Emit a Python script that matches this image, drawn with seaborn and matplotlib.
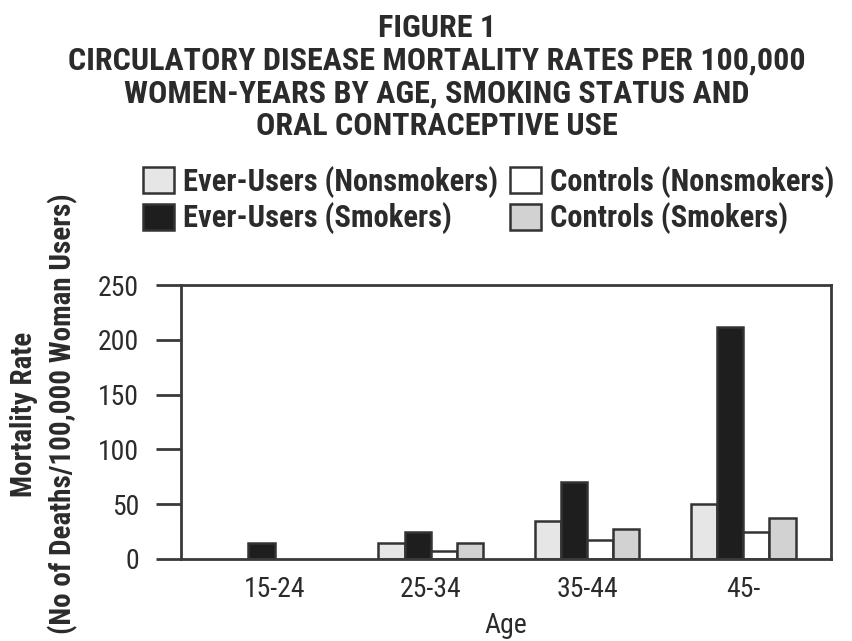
import numpy as np
import pandas as pd
import matplotlib
matplotlib.use("Agg")
import matplotlib.pyplot as plt
import seaborn as sns

# data
ages = ["15-24", "25-34", "35-44", "45-"]
groups = ["Ever-Users (Nonsmokers)", "Ever-Users (Smokers)",
          "Controls (Nonsmokers)", "Controls (Smokers)"]
ever_nonsmokers = [np.nan, 15, 35, 50]
ever_smokers = [15, 25, 70, 212]
controls_nonsmokers = [np.nan, 7, 17, 25]
controls_smokers = [np.nan, 15, 27, 37]
yticks = [0, 50, 100, 150, 200, 250]

df = pd.DataFrame({
    "Age": ages * 4,
    "group": np.repeat(groups, len(ages)),
    "rate": ever_nonsmokers + ever_smokers + controls_nonsmokers + controls_smokers,
})

sns.set_theme(style="white")
plt.rcParams['font.family'] = ['Roboto Condensed', 'Roboto', 'DejaVu Sans']
plt.rcParams['font.stretch'] = 'condensed'
ink = "#2b2b2b"

fig = plt.figure(figsize=(8.53, 6.41), dpi=100)
ax = fig.add_axes([0.212, 0.128, 0.762, 0.427])

pal = ["#e6e6e6", "#1e1e1e", "#ffffff", "#d2d2d2"]
sns.barplot(data=df, x="Age", y="rate", hue="group", hue_order=groups,
            palette=pal, width=0.67, edgecolor="#333333", linewidth=1.8,
            saturation=1, ax=ax)

ax.set_xlim(-0.6, 3.56)
ax.set_ylim(0, 250)
ax.set_yticks(yticks)
for s in ax.spines.values():
    s.set_color("#3a3a3a")
    s.set_linewidth(2)
ax.tick_params(axis="y", length=18, width=2, color="#3a3a3a", labelsize=20,
               labelcolor=ink, pad=12, left=True)
ax.tick_params(axis="x", length=0, labelsize=20, labelcolor=ink, pad=12)

ax.set_xlabel("Age", fontsize=20, color=ink, labelpad=7)
ax.set_ylabel("Mortality Rate\n(No of Deaths/100,000 Woman Users)",
              fontsize=21, fontweight="bold", color=ink,
              linespacing=1.45)
ax.yaxis.set_label_coords(-0.158, 0.53)

handles, labels = ax.get_legend_handles_labels()
ax.legend(handles, labels, ncol=2, frameon=False,
          prop={"weight": "bold", "size": 22},
          loc="center", bbox_to_anchor=(0.573, 0.688), bbox_transform=fig.transFigure,
          handlelength=1.0, handleheight=0.95, handletextpad=0.3,
          columnspacing=0.4, labelspacing=0.15, labelcolor=ink,
          borderpad=0, borderaxespad=0)

fig.text(0.512, 0.98,
         "FIGURE 1\nCIRCULATORY DISEASE MORTALITY RATES PER 100,000\n"
         "WOMEN-YEARS BY AGE, SMOKING STATUS AND\nORAL CONTRACEPTIVE USE",
         ha="center", va="top", fontsize=23, fontweight="bold", color=ink,
         linespacing=1.12)

fig.savefig("out.png", dpi=100)
